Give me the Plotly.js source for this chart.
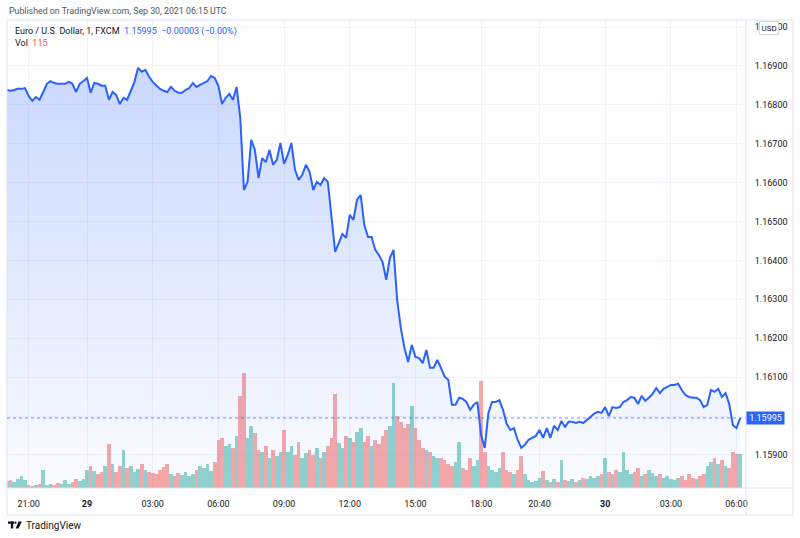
<!DOCTYPE html>
<html>
<head>
<meta charset="utf-8">
<script src="https://cdn.plot.ly/plotly-3.0.1.min.js"></script>
<style>
  html, body { margin: 0; padding: 0; background: #fff; }
  #chart { width: 800px; height: 538px; }
</style>
</head>
<body>
<div id="chart"></div>
<script>
// EUR/USD (FXCM) at one point per 10 minutes.
// 20:00 Sep 28 .. 06:10 Sep 30 UTC, the 21:10 / 21:20 rollover slots are missing.
var times = [];
var t = Date.UTC(2021, 8, 28, 20, 0);
var tEnd = Date.UTC(2021, 8, 30, 6, 10);
for (; t <= tEnd; t += 600000) {
  var d = new Date(t);
  var hm = d.getUTCHours() * 60 + d.getUTCMinutes();
  if (hm === 1270 || hm === 1280) continue;
  times.push(d.toISOString().slice(5, 16).replace("T", " "));
}

var prices = [
  1.16838, 1.16836, 1.16838, 1.16841, 1.16841, 1.16843, 1.16823, 1.16810, 1.16820, 1.16813,
  1.16833, 1.16854, 1.16861, 1.16856, 1.16854, 1.16854, 1.16854, 1.16859, 1.16854, 1.16833,
  1.16854, 1.16861, 1.16869, 1.16831, 1.16856, 1.16854, 1.16849, 1.16849, 1.16813, 1.16833,
  1.16825, 1.16802, 1.16818, 1.16813, 1.16836, 1.16859, 1.16895, 1.16885, 1.16890, 1.16872,
  1.16859, 1.16849, 1.16841, 1.16836, 1.16833, 1.16846, 1.16836, 1.16831, 1.16831, 1.16838,
  1.16843, 1.16856, 1.16846, 1.16851, 1.16856, 1.16861, 1.16874, 1.16869, 1.16849, 1.16802,
  1.16818, 1.16828, 1.16813, 1.16846, 1.16766, 1.16581, 1.16602, 1.16710, 1.16684, 1.16612,
  1.16663, 1.16653, 1.16684, 1.16646, 1.16658, 1.16702, 1.16648, 1.16671, 1.16702, 1.16633,
  1.16607, 1.16620, 1.16646, 1.16628, 1.16581, 1.16602, 1.16594, 1.16612, 1.16602, 1.16517,
  1.16422, 1.16445, 1.16468, 1.16458, 1.16517, 1.16504, 1.16556, 1.16568, 1.16491, 1.16460,
  1.16460, 1.16427, 1.16414, 1.16396, 1.16350, 1.16406, 1.16427, 1.16298, 1.16226, 1.16175,
  1.16139, 1.16183, 1.16152, 1.16149, 1.16136, 1.16170, 1.16124, 1.16124, 1.16144, 1.16124,
  1.16101, 1.16093, 1.16029, 1.16029, 1.16047, 1.16044, 1.16036, 1.16016, 1.16029, 1.16036,
  1.15951, 1.15918, 1.16008, 1.16036, 1.16036, 1.16041, 1.16016, 1.15980, 1.15964, 1.15969,
  1.15939, 1.15918, 1.15926, 1.15939, 1.15944, 1.15949, 1.15964, 1.15944, 1.15969, 1.15944,
  1.15975, 1.15964, 1.15987, 1.15972, 1.15985, 1.15985, 1.15982, 1.15985, 1.15982, 1.15990,
  1.16000, 1.16006, 1.16011, 1.16008, 1.16023, 1.16000, 1.16023, 1.16021, 1.16023, 1.16036,
  1.16041, 1.16049, 1.16047, 1.16031, 1.16052, 1.16039, 1.16047, 1.16057, 1.16072, 1.16059,
  1.16070, 1.16075, 1.16080, 1.16080, 1.16083, 1.16067, 1.16054, 1.16049, 1.16047, 1.16047,
  1.16041, 1.16023, 1.16029, 1.16067, 1.16062, 1.16070, 1.16049, 1.16059, 1.16031, 1.15977,
  1.15969, 1.15995
];

var volumes = [
  24, 27, 20, 31, 41, 27, 10, 7, 10, 14,
  61, 10, 14, 10, 17, 14, 27, 14, 20, 31,
  24, 31, 61, 75, 58, 48, 54, 75, 150, 82,
  54, 75, 129, 68, 75, 54, 65, 82, 61, 54,
  51, 48, 61, 71, 82, 48, 41, 51, 44, 54,
  41, 48, 61, 75, 68, 82, 58, 88, 163, 170,
  143, 150, 136, 177, 313, 394, 170, 211, 187, 129,
  122, 143, 102, 129, 109, 122, 197, 122, 143, 112,
  156, 102, 119, 129, 112, 136, 102, 122, 143, 170,
  320, 153, 136, 177, 170, 156, 190, 204, 156, 177,
  143, 163, 150, 177, 197, 211, 360, 245, 224, 204,
  218, 279, 204, 163, 136, 129, 122, 109, 102, 102,
  95, 82, 75, 88, 156, 68, 61, 102, 75, 95,
  367, 122, 75, 61, 54, 68, 122, 61, 54, 48,
  61, 109, 48, 27, 20, 24, 34, 58, 27, 20,
  31, 20, 95, 27, 24, 31, 20, 27, 34, 31,
  41, 34, 41, 48, 102, 54, 48, 61, 54, 122,
  61, 48, 54, 68, 41, 48, 61, 51, 41, 48,
  34, 41, 31, 27, 34, 41, 27, 48, 34, 31,
  41, 48, 75, 88, 102, 82, 95, 75, 68, 122,
  116, 115
];

var tickTimes = ["09-28 21:00", "09-29 00:00", "09-29 03:00", "09-29 06:00", "09-29 09:00", "09-29 12:00",
                 "09-29 15:00", "09-29 18:00", "09-29 20:40", "09-30 00:00", "09-30 03:00", "09-30 06:00"];
var tickLabels = ["21:00", "<b>29</b>", "03:00", "06:00", "09:00", "12:00",
                  "15:00", "18:00", "20:40", "<b>30</b>", "03:00", "06:00"];
var priceTicks = [1.159, 1.160, 1.161, 1.162, 1.163, 1.164, 1.165, 1.166, 1.167, 1.168, 1.169, 1.170];
var lastPrice = 1.15995;

// plot box in pixels, for placing the frame and texts
var L = 7, R = 746, T = 20, B = 488;
function px(x) { return (x - L) / (R - L); }
function py(y) { return (B - y) / (B - T); }

var volColors = volumes.map(function (v, i) {
  var down = i > 0 && prices[i] < prices[i - 1];
  return down ? "rgba(239,83,80,0.5)" : "rgba(38,166,154,0.5)";
});

var volTrace = {
  x: times, y: volumes, type: "bar", yaxis: "y",
  marker: {color: volColors, line: {width: 0}},
  width: 1, hoverinfo: "skip"
};

var areaTrace = {
  x: times, y: prices, yaxis: "y2", mode: "lines",
  line: {width: 0}, fill: "tozeroy",
  fillgradient: {
    type: "vertical", start: 1.15815, stop: 1.17018,
    colorscale: [[0, "rgba(41,98,255,0.02)"], [1, "rgba(41,98,255,0.27)"]]
  },
  hoverinfo: "skip"
};

var lineTrace = {
  x: times, y: prices, yaxis: "y2", mode: "lines",
  line: {color: "#2962ff", width: 2}
};

var font = "Roboto, 'Liberation Sans', sans-serif";

var shapes = [
  // outer frame, price scale and time scale separators
  {type: "rect", xref: "paper", yref: "paper", x0: px(7), x1: px(793), y0: py(20), y1: py(515),
   line: {color: "#e0e3eb", width: 1}},
  {type: "line", xref: "paper", yref: "paper", x0: 1, x1: 1, y0: py(20), y1: py(515),
   line: {color: "#e0e3eb", width: 1}},
  {type: "line", xref: "paper", yref: "paper", x0: px(7), x1: px(793), y0: 0, y1: 0,
   line: {color: "#e0e3eb", width: 1}},
  // last price line
  {type: "line", xref: "paper", yref: "y2", x0: 0, x1: 1, y0: lastPrice, y1: lastPrice,
   line: {color: "rgba(41,98,255,0.7)", width: 1, dash: "dot"}},
  // TradingView logo
  {type: "rect", xref: "paper", yref: "paper", x0: px(8), x1: px(14), y0: py(521.5), y1: py(523.8),
   fillcolor: "#131722", line: {width: 0}},
  {type: "rect", xref: "paper", yref: "paper", x0: px(10.8), x1: px(13.2), y0: py(521.5), y1: py(528.5),
   fillcolor: "#131722", line: {width: 0}},
  {type: "circle", xref: "paper", yref: "paper", x0: px(14.3), x1: px(16.6), y0: py(521.5), y1: py(523.8),
   fillcolor: "#131722", line: {width: 0}},
  {type: "path", xref: "paper", yref: "paper",
   path: "M" + px(18.5) + "," + py(521.5) + " L" + px(21.8) + "," + py(521.5) +
         " L" + px(18.6) + "," + py(528.5) + " L" + px(15.6) + "," + py(528.5) + " Z",
   fillcolor: "#131722", line: {width: 0}}
];

var annotations = [
  {xref: "paper", yref: "paper", x: px(7), y: py(11), xanchor: "left", yanchor: "middle", showarrow: false,
   text: "Published on TradingView.com, Sep 30, 2021 06:15 UTC", font: {size: 8.8, color: "#50535e"}},
  {xref: "paper", yref: "paper", x: px(13), y: py(31), xanchor: "left", yanchor: "middle", showarrow: false,
   text: "Euro / U.S. Dollar, 1, FXCM&nbsp;&nbsp;<span style='color:#2962ff'>1.15995&nbsp;&nbsp;−0.00003 (−0.00%)</span>",
   font: {size: 9, color: "#131722"}},
  {xref: "paper", yref: "paper", x: px(13), y: py(43), xanchor: "left", yanchor: "middle", showarrow: false,
   text: "Vol&nbsp;&nbsp;<span style='color:#ef5350'>115</span>", font: {size: 9, color: "#131722"}},
  {xref: "paper", yref: "y2", x: 1, y: lastPrice, xanchor: "left", yanchor: "middle", showarrow: false,
   text: "1.15995", bgcolor: "#2962ff", width: 37, height: 12, borderpad: 0,
   font: {size: 9, color: "#ffffff"}},
  {xref: "paper", yref: "paper", x: px(769), y: py(28), xanchor: "center", yanchor: "middle", showarrow: false,
   text: "USD", bgcolor: "#ffffff", bordercolor: "#d1d4dc", borderwidth: 1, borderpad: 1.5,
   font: {size: 8, color: "#131722"}},
  {xref: "paper", yref: "paper", x: px(24), y: py(525), xanchor: "left", yanchor: "middle", showarrow: false,
   text: "TradingView", font: {size: 10, color: "#131722"}}
];

var layout = {
  width: 800, height: 538,
  margin: {l: L, r: 800 - R, t: T, b: 538 - B},
  paper_bgcolor: "#ffffff", plot_bgcolor: "#ffffff",
  font: {family: font, size: 9, color: "#131722"},
  showlegend: false, hovermode: false, bargap: 0,
  xaxis: {
    type: "category", range: [0.07, 202.6],
    tickmode: "array", tickvals: tickTimes, ticktext: tickLabels, tickangle: 0,
    showgrid: true, gridcolor: "#f0f3fa", gridwidth: 1,
    ticks: "outside", ticklen: 7, tickcolor: "rgba(0,0,0,0)",
    tickfont: {size: 9, color: "#131722"},
    showline: false, zeroline: false, fixedrange: true
  },
  yaxis: {range: [0, 1600], visible: false, fixedrange: true},
  yaxis2: {
    overlaying: "y", side: "right", range: [1.15815, 1.17018],
    tickmode: "array", tickvals: priceTicks,
    // 1.16000 sits under the last-price label, so its text is left out
    ticktext: priceTicks.map(function (p) { return p === 1.160 ? "" : p.toFixed(5); }),
    showgrid: true, gridcolor: "#f0f3fa", gridwidth: 1,
    ticks: "outside", ticklen: 6, tickcolor: "rgba(0,0,0,0)",
    tickfont: {size: 9, color: "#131722"},
    showline: false, zeroline: false, fixedrange: true
  },
  shapes: shapes,
  annotations: annotations
};

Plotly.newPlot("chart", [volTrace, areaTrace, lineTrace], layout, {displayModeBar: false, staticPlot: true});
</script>
</body>
</html>
